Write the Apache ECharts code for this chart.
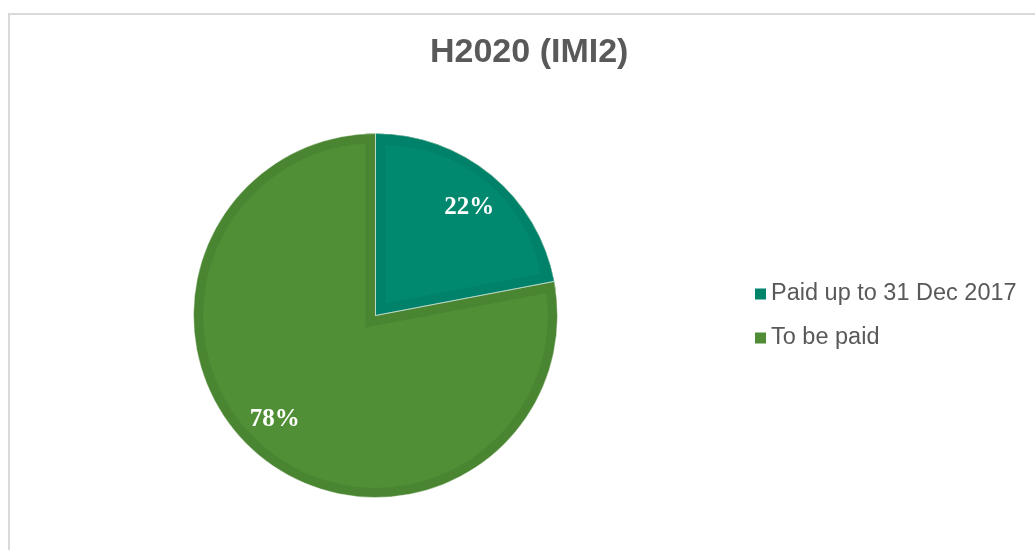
<!DOCTYPE html>
<html><head><meta charset="utf-8">
<script src="https://cdn.jsdelivr.net/npm/echarts@6/dist/echarts.min.js"></script>
<style>html,body{margin:0;padding:0;background:#fff}#c{width:1035px;height:550px}</style>
</head><body><div id="c"></div>
<script>
const chartTitle = 'H2020 (IMI2)';
const categories = ['Paid up to 31 Dec 2017', 'To be paid'];
const values = [22, 78];

const light = ['#00896E', '#508F36'];
const dark = ['#00816A', '#4A8531'];
const legendColors = ['#00856B', '#4F8C35'];
const T = 'rgba(0,0,0,0)';
const C = [375.5, 315.5];
const R = 182, band = 10;

const total = values.reduce((a, b) => a + b, 0);
const halfAng = Math.PI * values[0] / total;
const insetOffset = band / Math.sin(halfAng);
const insetR = (R - band) - insetOffset * (1 + Math.cos(halfAng)) / 2;
const labelOffsets = [[2, 3], [-9, -7]];

function items(styleFn, extraFn) {
  return categories.map((n, i) => Object.assign(
    { name: n, value: values[i], itemStyle: styleFn(i) },
    extraFn ? extraFn(i) : {}));
}
const base = {
  type: 'pie', center: C, silent: true, animation: false,
  startAngle: 90, clockwise: true,
  label: { show: false }, labelLine: { show: false },
  emphasis: { disabled: true }, avoidLabelOverlap: false
};

const series = [
  Object.assign({}, base, { radius: R,
    data: items(i => ({ color: dark[i], borderWidth: 0 })) }),
  Object.assign({}, base, { radius: R - band,
    data: items(i => ({ color: light[1], borderColor: light[1], borderWidth: 1 })) }),
  Object.assign({}, base, { radius: R - band,
    data: items(i => i === 0
      ? { color: T, borderColor: dark[1], borderWidth: band * 2, borderJoin: 'miter' }
      : { color: T, borderWidth: 0 }) }),
  Object.assign({}, base, { radius: R,
    data: items(i => i === 0 ? { color: dark[0], borderWidth: 0 } : { color: T, borderWidth: 0 }) }),
  Object.assign({}, base, { radius: insetR, selectedMode: 'single', selectedOffset: insetOffset,
    select: { itemStyle: { borderWidth: 0 } },
    data: items(i => i === 0 ? { color: light[0], borderWidth: 0 } : { color: T, borderWidth: 0 },
      i => ({ selected: i === 0 })) }),
  Object.assign({}, base, { radius: R,
    data: items(i => ({ color: T, borderColor: 'rgba(255,255,255,0.45)', borderWidth: 1 })) }),
  Object.assign({}, base, { radius: [100, R],
    label: { show: true, position: 'inside', formatter: '{d}%', color: '#ffffff',
      fontFamily: 'Liberation Serif', fontWeight: 'bold', fontSize: 25 },
    data: items(i => ({ color: T, borderWidth: 0 }),
      i => ({ label: { offset: labelOffsets[i] } })) })
];

const chart = echarts.init(document.getElementById('c'), null, { renderer: 'canvas' });
chart.setOption({
  backgroundColor: '#ffffff',
  animation: false,
  title: {
    text: chartTitle, left: 430, top: 36, padding: 0,
    textStyle: { fontFamily: 'Liberation Sans', fontWeight: 'bold', fontSize: 34, color: '#595959' }
  },
  legend: {
    orient: 'vertical', left: 755, top: 282, itemGap: 20, padding: 0,
    itemWidth: 11, itemHeight: 11, icon: 'rect',
    textStyle: { fontFamily: 'Liberation Sans', fontSize: 23.5, color: '#595959' },
    data: categories.map((n, i) => ({ name: n, itemStyle: { color: legendColors[i] } }))
  },
  graphic: [{
    type: 'rect', silent: true, z: -1,
    shape: { x: 9, y: 14, width: 1200, height: 700 },
    style: { fill: 'none', stroke: '#d9d9d9', lineWidth: 2 }
  }],
  series: series
});
</script></body></html>
